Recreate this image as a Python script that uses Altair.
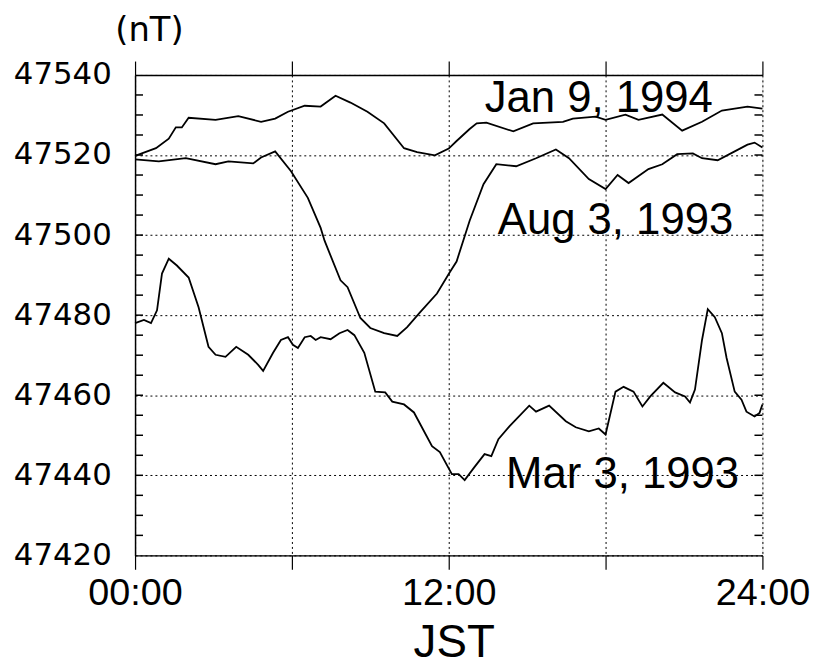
import altair as alt
import pandas as pd

# ---- data (hours JST, total force nT) ----
jan_h = [0.0, 0.8, 1.29, 1.56, 1.79, 2.05, 3.08, 3.95, 4.82, 5.36, 5.85, 6.49, 7.10, 7.67,
         8.24, 8.89, 9.53, 10.29, 10.79, 11.47, 12.0, 12.3, 12.8, 13.07, 13.44, 14.47, 15.23,
         16.37, 16.75, 17.62, 18.0, 18.76, 19.26, 20.17, 20.93, 21.69, 22.45, 23.43, 24.0]
jan_v = [47519.8, 47521.7, 47524.1, 47526.9, 47526.9, 47529.3, 47528.8, 47529.7, 47528.3,
         47529.1, 47530.8, 47532.3, 47532.1, 47534.8, 47533.1, 47530.8, 47527.9, 47521.7,
         47520.7, 47519.9, 47521.6, 47523.5, 47526.5, 47527.9, 47528.1, 47525.9, 47527.9,
         47528.3, 47529.1, 47529.6, 47528.8, 47530.1, 47528.8, 47530.1, 47526.1, 47528.3,
         47531.1, 47532.1, 47531.6]

aug_h = [0.0, 0.91, 1.94, 3.08, 3.57, 4.52, 4.82, 5.36, 5.96, 6.61, 7.10, 7.25, 7.86, 8.13,
         8.62, 9.0, 9.53, 10.03, 10.41, 10.9, 11.55, 12.04, 12.3, 12.8, 13.33, 13.82, 14.58,
         15.34, 16.1, 16.6, 17.36, 18.0, 18.46, 18.88, 19.64, 20.17, 20.74, 21.34, 21.69,
         22.29, 22.94, 23.43, 23.7, 24.0]
aug_v = [47518.9, 47518.4, 47519.2, 47517.7, 47518.4, 47517.9, 47519.4, 47520.9, 47516.0,
         47509.3, 47501.8, 47498.6, 47488.7, 47487.0, 47479.3, 47476.8, 47475.5, 47474.8,
         47477.0, 47480.7, 47485.4, 47490.7, 47493.4, 47503.6, 47512.7, 47517.7, 47517.2,
         47519.2, 47521.4, 47519.2, 47514.0, 47511.5, 47515.0, 47513.0, 47516.5, 47517.7,
         47520.2, 47520.4, 47519.2, 47518.7, 47520.9, 47522.6, 47523.1, 47521.9]

mar_h = [0.0, 0.34, 0.61, 0.84, 1.03, 1.29, 1.6, 2.05, 2.43, 2.81, 3.08, 3.46, 3.87, 4.33,
         4.71, 4.9, 5.28, 5.58, 5.85, 6.04, 6.23, 6.49, 6.72, 6.91, 7.1, 7.48, 7.82, 8.13,
         8.39, 8.77, 9.19, 9.57, 9.84, 10.29, 10.67, 11.36, 11.66, 12.12, 12.38, 12.61,
         12.99, 13.37, 13.63, 13.9, 14.32, 15.08, 15.34, 15.84, 16.48, 16.86, 17.36, 17.74,
         18.0, 18.38, 18.69, 19.07, 19.41, 19.71, 20.21, 20.66, 21.04, 21.23, 21.42, 21.69,
         21.91, 22.18, 22.45, 22.63, 22.94, 23.2, 23.39, 23.7, 23.89, 24.0]
mar_v = [47478.0, 47478.8, 47478.0, 47481.2, 47490.4, 47494.1, 47492.4, 47489.4, 47482.0,
         47472.1, 47470.1, 47469.6, 47472.1, 47470.1, 47467.6, 47466.1, 47470.6, 47473.8,
         47474.5, 47472.6, 47471.8, 47474.5, 47474.8, 47473.8, 47474.5, 47474.0, 47475.5,
         47476.3, 47475.0, 47470.6, 47460.9, 47460.7, 47458.4, 47457.7, 47455.7, 47447.3,
         47445.8, 47440.3, 47440.3, 47438.8, 47442.1, 47445.3, 47444.8, 47449.0, 47452.2,
         47457.4, 47455.9, 47457.4, 47453.5, 47452.0, 47451.0, 47451.7, 47450.2, 47460.9,
         47462.1, 47460.9, 47457.2, 47459.7, 47463.1, 47460.7, 47459.7, 47458.2, 47461.4,
         47473.8, 47481.5, 47479.5, 47475.5, 47469.3, 47460.9, 47458.9, 47455.9, 47454.7,
         47455.6, 47457.7]

series_names = ["Jan 9, 1994", "Aug 3, 1993", "Mar 3, 1993"]
label_h = [17.74, 18.38, 18.65]
label_v = [47530.8, 47500.3, 47436.9]

x_ticks = [0, 6, 12, 18, 24]
y_ticks = [47420, 47440, 47460, 47480, 47500, 47520, 47540]
minor_ticks = [47420 + 5 * i for i in range(1, 24)]

# ---- tables ----
rows = []
for name, hs, vs in zip(series_names, [jan_h, aug_h, mar_h], [jan_v, aug_v, mar_v]):
    for h, v in zip(hs, vs):
        rows.append({"h": h, "v": v, "s": name})
df = pd.DataFrame(rows)
df_lab = pd.DataFrame({"h": label_h, "v": label_v, "t": series_names})
df_minor = pd.DataFrame({"t": minor_ticks})
df_top = pd.DataFrame({"h": x_ticks})

W, H = 632, 484
xs = alt.Scale(domain=[0, 24], nice=False, zero=False)
ys = alt.Scale(domain=[47420, 47540], nice=False, zero=False)

lab_expr = "datum.value == 0 ? '00:00' : datum.value == 12 ? '12:00' : datum.value == 24 ? '24:00' : ''"

lines = alt.Chart(df).mark_line(color="black", strokeWidth=1.8).encode(
    x=alt.X("h:Q", scale=xs, axis=alt.Axis(
        values=x_ticks, labelExpr=lab_expr, title="JST",
        grid=True, gridDash=[2, 3], gridColor="black", gridWidth=1, gridOpacity=1,
        tickSize=14, tickColor="black", tickWidth=1.2,
        domainColor="black", domainWidth=1.5,
        labelFont="Liberation Sans", labelFontSize=38, labelColor="black", labelPadding=5,
        labelFlush=False, labelOverlap=False,
        titleFont="Liberation Sans", titleFontSize=46, titleFontWeight="normal",
        titleColor="black", titleX=321, titleY=88, titleBaseline="middle")),
    y=alt.Y("v:Q", scale=ys, axis=alt.Axis(
        values=y_ticks, format="d", grid=True, gridDash=[2, 3], gridColor="black",
        gridWidth=1, gridOpacity=1, ticks=False, tickSize=0,
        domainColor="black", domainWidth=1.5,
        labelFont="DejaVu Sans", labelFontSize=31, labelColor="black", labelPadding=24,
        labelFlush=False, labelOverlap=False,
        title="(nT)", titleAngle=0, titleX=14, titleY=-45, titleAlign="center",
        titleBaseline="middle", titleFont="DejaVu Sans", titleFontSize=34,
        titleFontWeight="normal", titleColor="black")),
    detail="s:N",
)

top_axis = alt.Chart(df_top).mark_point(opacity=0).encode(
    x=alt.X("h:Q", scale=xs, axis=alt.Axis(
        orient="top", values=x_ticks, labels=False, title="", grid=False,
        tickSize=14, tickColor="black", tickWidth=1.2,
        domainColor="black", domainWidth=1.5)),
)

left_minor = alt.Chart(df_minor).mark_rule(color="black", strokeWidth=1.5).encode(
    y=alt.Y("t:Q", scale=ys, axis=None),
    x=alt.value(0), x2=alt.value(8),
)
right_minor = alt.Chart(df_minor).mark_rule(color="black", strokeWidth=1.5).encode(
    y=alt.Y("t:Q", scale=ys, axis=None),
    x=alt.value(W - 8), x2=alt.value(W),
)

labels = alt.Chart(df_lab).mark_text(
    font="Liberation Sans", fontSize=44, color="black", align="center", baseline="alphabetic"
).encode(
    x=alt.X("h:Q", scale=xs, axis=None),
    y=alt.Y("v:Q", scale=ys, axis=None),
    text="t:N",
)

chart = alt.layer(lines, top_axis, left_minor, right_minor, labels).resolve_axis(
    x="independent", y="independent"
).properties(
    width=W, height=H,
    autosize=alt.AutoSizeParams(type="none"),
    padding={"left": 128, "top": 65, "right": 55, "bottom": 110},
).configure_view(stroke="black", strokeWidth=1.5).configure(background="white")

chart.save("out.html", embed_options={"renderer": "svg", "actions": False})
